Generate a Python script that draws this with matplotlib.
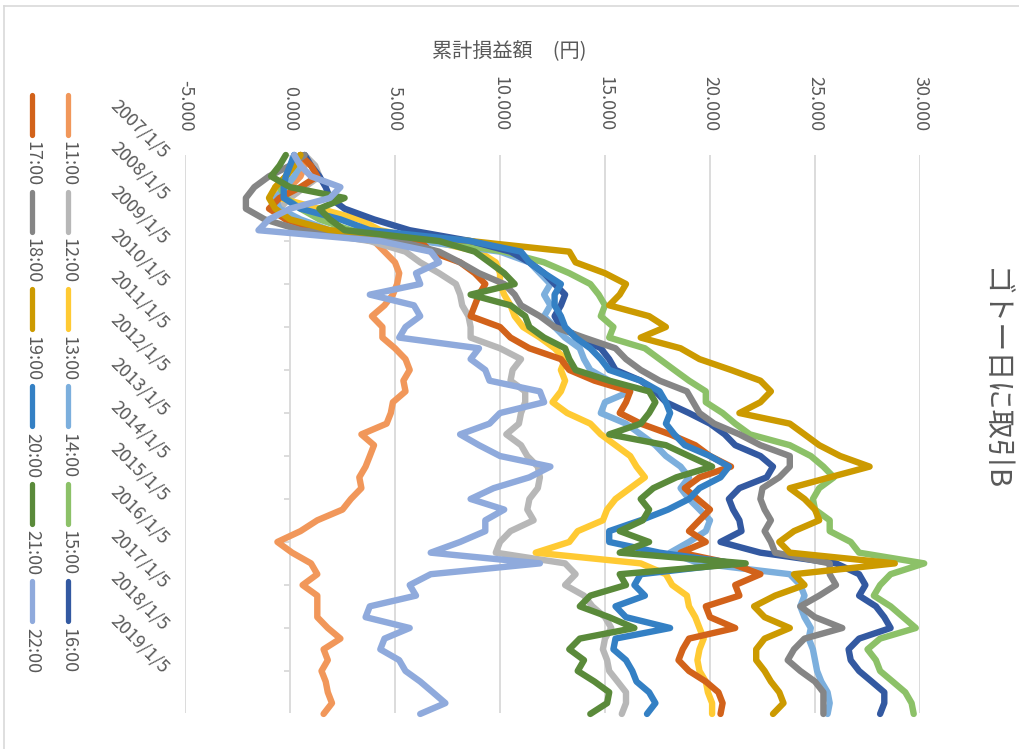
import pandas as pd
import matplotlib
matplotlib.use("Agg")
import matplotlib.pyplot as plt
import matplotlib.dates as mdates
from matplotlib.lines import Line2D
from matplotlib.transforms import blended_transform_factory

plt.rcParams['font.family'] = ['Noto Sans CJK JP', 'DejaVu Sans']

# ---- data: cumulative P/L (yen), sampled quarterly from 2007/1/5 ----
dates = pd.date_range('2007-01-05', periods=53, freq=pd.DateOffset(months=3))

h11 = [0.5, 0.7, 0.5, 0.0, -0.5, -0.7, -0.2, 0.5,
       4.0, 4.5, 5.0, 5.2, 5.1, 4.9, 4.5, 3.9,
       4.4, 4.4, 5.0, 5.5, 5.7, 5.4, 5.5, 4.9,
       4.8, 4.6, 3.4, 4.0, 3.8, 3.6, 3.3, 3.4,
       2.9, 2.5, 1.3, 0.5, -0.6, 0.1, 1.0, 1.3,
       0.6, 1.3, 1.3, 1.3, 1.8, 2.4, 1.6, 1.8,
       1.5, 1.7, 1.8, 2.0, 1.6]
h12 = [0.7, 1.2, 1.4, 0.7, 0.0, -0.5, -0.2, 0.5,
       3.8, 5.5, 6.2, 7.1, 7.9, 8.1, 8.2, 8.5,
       8.6, 8.6, 10.0, 11.0, 10.6, 10.5, 11.2, 11.2,
       11.0, 10.9, 10.3, 11.0, 11.3, 11.8, 11.9, 11.8,
       11.4, 11.3, 11.6, 10.5, 10.0, 9.8, 13.1, 13.6,
       13.1, 14.0, 14.4, 15.0, 15.3, 15.0, 14.9, 15.1,
       15.2, 15.6, 16.0, 16.0, 15.8]
h13 = [0.5, 0.2, -0.2, -0.7, -0.5, 1.4, 3.3, 4.3,
       6.7, 9.0, 9.8, 10.0, 10.0, 10.2, 10.5, 10.7,
       11.1, 11.9, 12.6, 13.1, 12.9, 13.1, 12.9, 12.5,
       13.2, 14.3, 14.8, 15.5, 16.2, 16.5, 16.9, 16.2,
       15.5, 15.1, 14.9, 13.7, 13.3, 11.7, 16.7, 17.9,
       18.2, 18.9, 19.0, 19.3, 19.5, 19.7, 19.5, 19.4,
       19.5, 19.8, 19.9, 20.1, 20.1]
h14 = [0.2, 0.5, 0.2, -0.2, -0.7, -0.5, 0.5, 1.9,
       6.2, 10.0, 11.4, 11.9, 12.4, 12.1, 12.4, 12.1,
       12.6, 13.1, 13.8, 14.0, 14.3, 15.2, 16.2, 15.0,
       14.8, 16.0, 16.7, 17.4, 17.9, 18.6, 19.0, 18.6,
       19.0, 19.5, 20.0, 19.8, 19.0, 18.1, 19.5, 23.8,
       24.3, 24.5, 24.3, 24.5, 24.8, 24.7, 24.9, 25.0,
       25.1, 25.3, 25.6, 25.7, 25.6]
h15 = [0.5, 0.2, -0.2, -0.5, -0.2, 0.5, 1.4, 2.9,
       7.1, 10.2, 12.1, 13.3, 14.3, 14.7, 15.0, 14.8,
       15.4, 15.2, 16.9, 17.6, 18.3, 19.0, 19.8, 19.8,
       20.6, 21.2, 21.9, 23.8, 24.8, 25.4, 25.9, 25.2,
       24.9, 25.0, 25.7, 25.7, 26.7, 27.1, 30.2, 28.6,
       28.1, 27.8, 28.6, 29.2, 29.8, 28.1, 27.5, 27.9,
       28.1, 28.7, 29.3, 29.6, 29.7]
h16 = [0.7, 1.0, 1.4, 1.7, 1.9, 2.6, 4.0, 5.7,
       8.6, 10.5, 11.4, 12.1, 12.6, 13.1, 12.9, 12.6,
       12.9, 13.8, 14.8, 15.2, 15.5, 16.7, 17.4, 17.9,
       19.0, 20.0, 20.7, 21.2, 22.4, 23.0, 22.7, 21.4,
       20.9, 21.1, 21.4, 21.5, 20.5, 22.4, 26.0, 27.1,
       27.4, 27.1, 27.9, 28.3, 28.6, 27.1, 26.6, 26.7,
       27.1, 27.7, 28.3, 28.3, 28.1]
h17 = [0.5, 1.0, 1.3, 0.5, -0.5, -1.0, -0.2, 1.4,
       6.2, 6.7, 8.1, 8.8, 9.3, 9.0, 8.8, 8.6,
       10.0, 10.5, 11.4, 12.9, 13.3, 14.5, 16.2, 16.0,
       15.7, 16.7, 18.1, 19.3, 20.0, 21.0, 19.5, 18.8,
       19.4, 20.0, 19.5, 19.0, 19.8, 18.6, 21.0, 22.4,
       21.2, 21.4, 19.8, 20.0, 21.2, 19.0, 18.7, 18.5,
       19.0, 19.8, 20.4, 20.6, 20.5]
h18 = [0.7, 0.0, -1.0, -1.7, -2.1, -2.1, -1.2, 0.5,
       5.2, 7.1, 8.1, 9.0, 10.2, 10.7, 11.0, 11.9,
       12.6, 14.0, 15.5, 16.0, 16.7, 17.6, 18.9, 19.2,
       19.5, 20.2, 21.4, 22.4, 23.8, 23.8, 23.3, 22.5,
       22.4, 22.6, 22.9, 22.6, 22.9, 23.1, 25.7, 25.7,
       26.0, 25.2, 24.3, 25.0, 26.3, 24.5, 24.0, 23.7,
       24.3, 25.0, 25.4, 25.4, 25.4]
h19 = [0.5, 0.2, -0.2, -0.7, -1.0, -0.7, 0.0, 1.9,
       8.6, 13.3, 13.6, 15.0, 16.0, 15.7, 15.2, 17.1,
       17.9, 16.7, 18.6, 19.5, 21.0, 22.4, 22.9, 22.4,
       21.4, 23.8, 24.5, 25.2, 26.2, 27.6, 25.7, 23.8,
       24.5, 25.0, 25.2, 24.0, 23.3, 23.8, 28.8, 24.0,
       24.5, 23.1, 22.1, 22.6, 23.8, 22.6, 22.2, 22.2,
       22.6, 22.9, 23.3, 23.5, 23.0]
h20 = [0.2, 0.0, -0.2, -0.3, -0.3, 0.5, 2.4, 3.8,
       8.6, 11.0, 11.4, 12.1, 12.9, 12.6, 12.6, 12.9,
       13.1, 13.6, 14.3, 14.8, 15.2, 16.7, 17.6, 17.9,
       18.1, 17.9, 18.3, 18.8, 20.0, 20.9, 20.5, 19.5,
       19.0, 18.0, 16.7, 15.2, 15.2, 17.6, 21.2, 16.7,
       16.4, 16.9, 15.5, 16.0, 18.1, 15.5, 15.4, 16.0,
       16.3, 16.5, 17.1, 17.4, 17.0]
h21 = [-0.2, -0.5, -0.9, 0.0, 2.6, 1.4, 1.9, 2.6,
       7.1, 8.8, 9.5, 10.2, 10.7, 8.6, 10.5, 11.2,
       11.4, 12.1, 13.1, 13.3, 13.6, 15.2, 17.1, 17.4,
       17.1, 16.7, 15.2, 17.9, 19.0, 20.1, 18.4, 17.3,
       16.7, 17.1, 16.8, 15.7, 17.1, 15.7, 21.7, 15.7,
       16.0, 14.3, 13.8, 15.2, 16.4, 13.8, 13.3, 14.0,
       13.7, 14.5, 15.2, 15.1, 14.3]
h22 = [0.2, 0.5, 1.0, 2.4, 1.9, 0.0, -1.0, -1.5,
       4.3, 6.7, 7.1, 6.0, 6.2, 3.8, 5.9, 6.2,
       5.5, 5.2, 9.0, 8.6, 9.3, 9.5, 11.9, 12.1,
       10.0, 9.5, 8.1, 9.0, 10.0, 12.4, 11.4, 9.7,
       8.6, 10.2, 9.3, 9.3, 8.1, 6.7, 11.9, 6.7,
       5.7, 6.0, 3.8, 3.6, 5.7, 4.5, 4.3, 5.2,
       5.5, 6.2, 6.8, 7.4, 6.2]

series_names = ['11:00', '12:00', '13:00', '14:00', '15:00', '16:00',
                '17:00', '18:00', '19:00', '20:00', '21:00', '22:00']
series_values = [h11, h12, h13, h14, h15, h16, h17, h18, h19, h20, h21, h22]
series_colors = ['#F1975A', '#B7B7B7', '#FFCA33', '#7CAFDD', '#8CC168', '#3359A1',
                 '#D2621A', '#858585', '#CC9A00', '#3480C4', '#5A8A3A', '#8FAADC']

date_labels = ['2007/1/5', '2008/1/5', '2009/1/5', '2010/1/5', '2011/1/5',
               '2012/1/5', '2013/1/5', '2014/1/5', '2015/1/5', '2016/1/5',
               '2017/1/5', '2018/1/5', '2019/1/5']
value_ticks = [-5, 0, 5, 10, 15, 20, 25, 30]

title = 'ゴトー日に取引B'
value_title = '累計損益額　(円)'

# ---- figure / layout ----
W, H = 1019, 749
fig = plt.figure(figsize=(W / 100, H / 100), dpi=100)
fig.patch.set_facecolor('white')


def fx(px):
    return px / W


def fy(py):
    return 1 - py / H


text_color = '#595959'
grid_color = '#D9D9D9'
line_w = 4.6
legend_w = 3.8

ax = fig.add_axes([fx(185), fy(713), fx(920) - fx(185), fy(155) - fy(713)])
ax.set_xlim(value_ticks[0], value_ticks[-1])
ax.set_ylim(pd.Timestamp('2019-12-28'), pd.Timestamp('2007-01-05'))
for s in ax.spines.values():
    s.set_visible(False)
ax.set_axisbelow(True)
ax.grid(axis='x', color=grid_color, linewidth=1.3)
ax.set_xticks(value_ticks)
ax.set_xticklabels([f'{v:.3f}' for v in value_ticks])
ax.xaxis.tick_top()
ax.tick_params(axis='x', length=0, pad=17, labelrotation=-90,
               labelsize=13, labelcolor=text_color)
ax.set_yticks([])

# category axis ticks on the zero line
label_dates = [pd.Timestamp(int(d.split('/')[0]), 1, 5) for d in date_labels]
label_nums = mdates.date2num(label_dates)
ax.hlines(label_nums, -0.3, 0, color=grid_color, linewidth=1.3, zorder=1)

# date labels, slanted
tr = blended_transform_factory(fig.transFigure, ax.transData)
for txt, yv in zip(date_labels, label_nums):
    ax.text(fx(166), yv, txt, transform=tr, rotation=-45, rotation_mode='anchor',
            ha='right', va='center', fontsize=13, color=text_color, clip_on=False)

# series
for name, vals, col in zip(series_names, series_values, series_colors):
    ax.plot(vals, dates, color=col, linewidth=line_w, solid_capstyle='round',
            solid_joinstyle='round', clip_on=False, label=name)

# legend, drawn as two columns of rotated entries
cols_x = [68, 32]
for c in range(2):
    for i in range(6):
        idx = c * 6 + i
        y0 = 92 + 97.3 * i
        fig.add_artist(Line2D([fx(cols_x[c]), fx(cols_x[c])], [fy(y0 + 2.5), fy(y0 + 42.5)],
                              transform=fig.transFigure, color=series_colors[idx],
                              linewidth=legend_w, solid_capstyle='round'))
        fig.text(fx(cols_x[c]), fy(y0 + 49), series_names[idx], rotation=-90,
                 rotation_mode='anchor', ha='left', va='center',
                 fontsize=13, color=text_color)

# titles
fig.text(fx(509), fy(52), value_title, ha='center', va='center',
         fontsize=14.5, color=text_color)
fig.text(fx(994), fy(380), title, rotation=-90, ha='center', va='center',
         fontsize=21, color=text_color)

# chart frame
fig.add_artist(Line2D([fx(4), fx(4)], [fy(6), 0], transform=fig.transFigure,
                      color=grid_color, linewidth=1.2))
fig.add_artist(Line2D([fx(4), 1], [fy(6), fy(6)], transform=fig.transFigure,
                      color=grid_color, linewidth=1.2))

fig.savefig('out.png', dpi=100, facecolor='white')
